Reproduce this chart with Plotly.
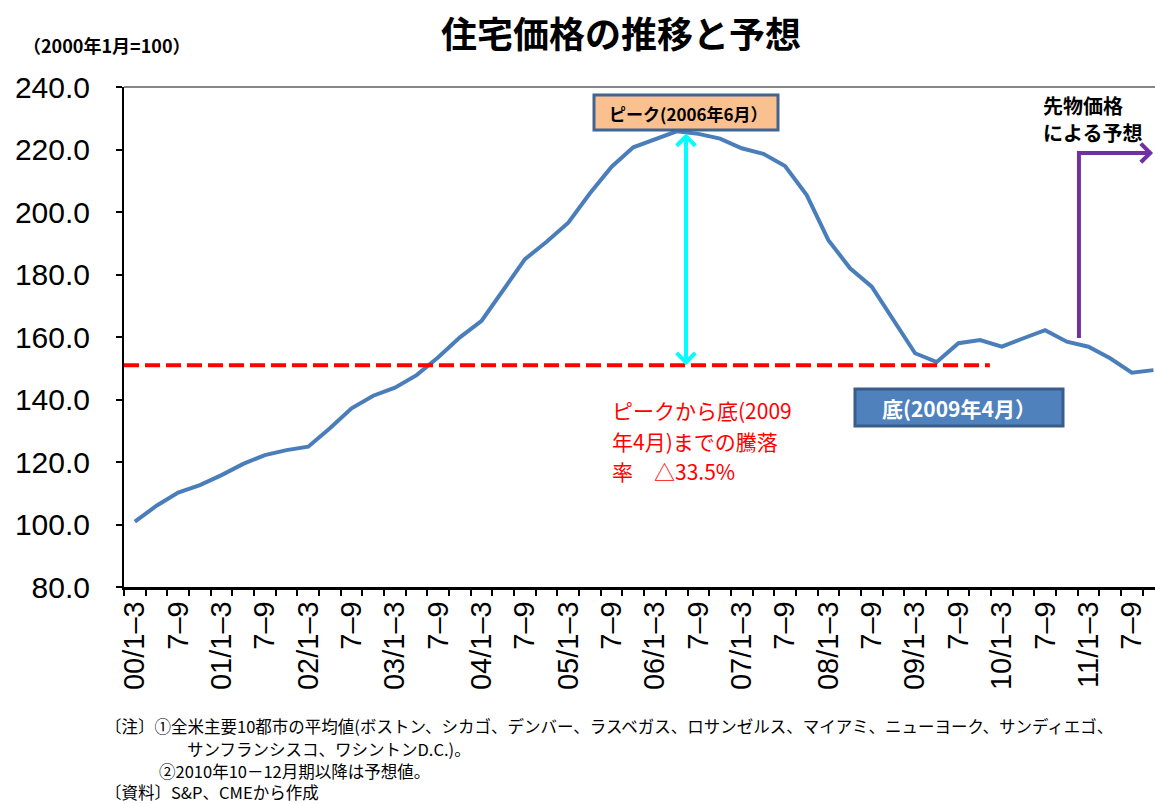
import plotly.graph_objects as go

# ---------------- data ----------------
categories = [f"{y}Q{q}" for y in range(2000, 2012) for q in (1, 2, 3, 4)]

tick_labels = [
    "00/1–3", "", "7–9", "", "01/1–3", "", "7–9", "",
    "02/1–3", "", "7–9", "", "03/1–3", "", "7–9", "",
    "04/1–3", "", "7–9", "", "05/1–3", "", "7–9", "",
    "06/1–3", "", "7–9", "", "07/1–3", "", "7–9", "",
    "08/1–3", "", "7–9", "", "09/1–3", "", "7–9", "",
    "10/1–3", "", "7–9", "", "11/1–3", "", "7–9", "",
]

price_index = [
    100.9, 106.0, 110.2, 112.6, 115.8, 119.4, 122.2, 123.8,
    124.9, 130.8, 137.2, 141.2, 143.8, 147.8, 153.5, 159.9,
    165.2, 175.0, 184.9, 190.5, 196.6, 206.0, 214.5, 220.7,
    223.3, 225.8, 225.0, 223.5, 220.4, 218.6, 214.7, 205.4,
    191.0, 182.0, 176.1, 165.4, 154.8, 152.0, 158.0, 159.0,
    156.9, 159.6, 162.2, 158.5, 156.9, 153.2, 148.6, 149.4,
]

peak_value = 225.6
trough_level = 151.0
peak_arrow_x = 25.43
dash_end_x = 39.45
forecast_x = 43.56
forecast_low = 159.7
forecast_high = 218.9
forecast_end_x = 46.98

y_min, y_max, y_step = 80, 240, 20

# ---------------- layout helpers ----------------
W, H = 1155, 804
L, R, T, B = 124, 0, 87, 217
PW, PH = W - L - R, H - T - B


def px(x):
    return (x - L) / PW


def py(y):
    return (H - B - y) / PH


JP = "Noto Sans CJK JP"
AR = "Liberation Sans, Arial, sans-serif"

fig = go.Figure()
fig.add_trace(go.Scatter(
    x=categories, y=price_index, mode="lines",
    line=dict(color="#4A7EBB", width=4),
    showlegend=False, hoverinfo="skip",
))

fig.update_layout(
    width=W, height=H,
    margin=dict(l=L, r=R, t=T, b=B, pad=0),
    paper_bgcolor="white", plot_bgcolor="white",
    showlegend=False,
    xaxis=dict(
        type="category",
        categoryorder="array", categoryarray=categories,
        range=[-0.5, 47.07],
        tickmode="array", tickvals=categories, ticktext=tick_labels,
        tickson="boundaries",
        ticks="outside", ticklen=6, tickwidth=1.5, tickcolor="black",
        tickangle=-90,
        tickfont=dict(family=AR, size=29, color="black"),
        showline=True, linecolor="black", linewidth=2.5,
        showgrid=False, zeroline=False, automargin=False,
    ),
    yaxis=dict(
        range=[y_min, y_max],
        tickmode="linear", tick0=y_min, dtick=y_step,
        tickformat=".1f",
        ticks="outside", ticklen=6, tickwidth=1.5, tickcolor="black",
        tickfont=dict(family=AR, size=30, color="black"),
        ticklabelstandoff=20,
        showline=True, linecolor="black", linewidth=2,
        showgrid=False, zeroline=False, automargin=False,
    ),
)

shapes = []
# top plot border
shapes.append(dict(type="line", xref="paper", yref="paper", x0=0, x1=1, y0=1, y1=1,
                   line=dict(color="#868686", width=2)))
# red dashed trough level
shapes.append(dict(type="line", xref="x", yref="y", x0=-0.5, x1=dash_end_x,
                   y0=trough_level, y1=trough_level,
                   line=dict(color="#FF0000", width=4, dash="15px,6px")))
# purple forecast bracket
shapes.append(dict(type="path", xref="x", yref="y",
                   path=f"M {forecast_x},{forecast_low} L {forecast_x},{forecast_high} L {forecast_end_x - 0.3},{forecast_high}",
                   line=dict(color="#7030A0", width=4)))
# peak box
shapes.append(dict(type="rect", xref="paper", yref="paper",
                   x0=px(594), x1=px(778), y0=py(130), y1=py(95),
                   fillcolor="#FAC090", line=dict(color="#41658F", width=3)))
# trough box
shapes.append(dict(type="rect", xref="paper", yref="paper",
                   x0=px(855), x1=px(1063), y0=py(426), y1=py(389),
                   fillcolor="#4F81BD", line=dict(color="#385D8A", width=3)))
fig.update_layout(shapes=shapes)

ann = []
# double headed cyan arrow
ann.append(dict(x=peak_arrow_x, y=trough_level, ax=peak_arrow_x, ay=peak_value,
                xref="x", yref="y", axref="x", ayref="y", text="",
                showarrow=True, arrowside="end+start",
                arrowhead=4, startarrowhead=4, arrowsize=0.9, startarrowsize=0.9,
                arrowwidth=4, arrowcolor="#00FFFF", standoff=0, startstandoff=0))
# purple arrow head
ann.append(dict(x=forecast_end_x, y=forecast_high, ax=forecast_x, ay=forecast_high,
                xref="x", yref="y", axref="x", ayref="y", text="",
                showarrow=True, arrowhead=4, arrowsize=0.9, arrowwidth=4,
                arrowcolor="#7030A0", standoff=0))


def txt(x, y, s, size, color="black", bold=False, xanchor="left", family=JP):
    if bold:
        s = f"<b>{s}</b>"
    ann.append(dict(x=px(x), y=py(y), xref="paper", yref="paper", text=s,
                    showarrow=False, xanchor=xanchor, yanchor="middle",
                    borderpad=0,
                    font=dict(family=family, size=size, color=color)))


txt(621, 32, "住宅価格の推移と予想", 36, bold=True, xanchor="center")
txt(22, 45, "（2000年1月=100）", 18, bold=True)
txt(688, 113, "ピーク(2006年6月）", 17, bold=True, xanchor="center")
txt(959, 408, "底(2009年4月）", 21, color="white", bold=True, xanchor="center")
txt(1042, 105, "先物価格", 20, bold=True)
txt(1042, 132, "による予想", 20, bold=True)
txt(611, 410, "ピークから底(2009", 21, color="#FF0000")
txt(611, 441, "年4月)までの騰落", 21, color="#FF0000")
txt(611, 471, "率　△33.5%", 21, color="#FF0000")
txt(104, 726, "〔注〕①全米主要10都市の平均値(ボストン、シカゴ、デンバー、ラスベガス、ロサンゼルス、マイアミ、ニューヨーク、サンディエゴ、", 16.5)
txt(186, 749, "サンフランシスコ、ワシントンD.C.)。", 16.5)
txt(158, 771, "②2010年10－12月期以降は予想値。", 16.5)
txt(104, 792, "〔資料〕S&P、CMEから作成", 16.5)

fig.update_layout(annotations=ann)
fig.write_html("out.html")
